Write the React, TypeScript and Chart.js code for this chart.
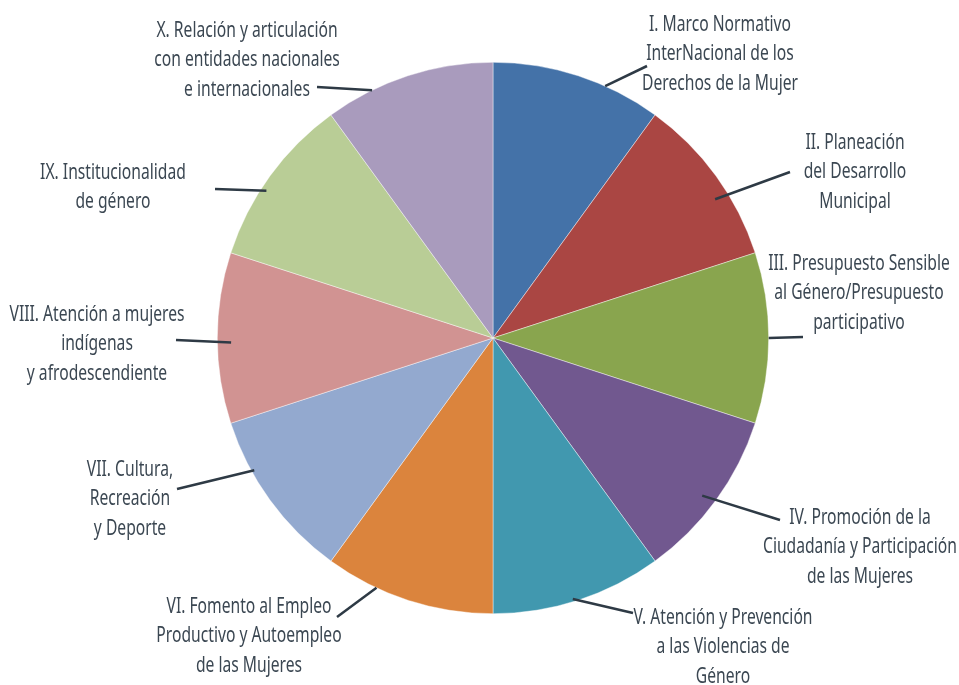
import React, { useEffect, useRef } from "react";
import { Chart, registerables } from "chart.js";

Chart.register(...registerables);

const categories: string[][] = [
  ["I. Marco Normativo", "InterNacional de los", "Derechos de la Mujer"],
  ["II. Planeación", "del Desarrollo", "Municipal"],
  ["III. Presupuesto Sensible", "al Género/Presupuesto", "participativo"],
  ["IV. Promoción de la", "Ciudadanía y Participación", "de las Mujeres"],
  ["V. Atención y Prevención", "a las Violencias de", "Género"],
  ["VI. Fomento al Empleo", "Productivo y Autoempleo", "de las Mujeres"],
  ["VII. Cultura,", "Recreación", "y Deporte"],
  ["VIII. Atención a mujeres", "indígenas", "y afrodescendiente"],
  ["IX. Institucionalidad", "de género"],
  ["X. Relación y articulación", "con entidades nacionales", "e internacionales"],
];

const values: number[] = [10, 10, 10, 10, 10, 10, 10, 10, 10, 10];

const colors: string[] = [
  "#4472A8",
  "#AA4643",
  "#89A54E",
  "#71588F",
  "#4198AF",
  "#DB843D",
  "#93A9CF",
  "#D19392",
  "#B9CD96",
  "#A99BBD",
];

// Label layout (style only): block centre x, first line centre y
const labelPos = [
  { x: 720, y: 25 },
  { x: 855, y: 143 },
  { x: 859, y: 264 },
  { x: 860, y: 518 },
  { x: 723, y: 618 },
  { x: 249, y: 607 },
  { x: 130, y: 470 },
  { x: 97, y: 315 },
  { x: 113, y: 173 },
  { x: 247, y: 31 },
];
// Leader line outer end (near label)
const leaderEnd = [
  { x: 647, y: 66 },
  { x: 790, y: 172 },
  { x: 803, y: 337 },
  { x: 780, y: 520 },
  { x: 633, y: 613 },
  { x: 337, y: 617 },
  { x: 177, y: 489 },
  { x: 176, y: 340 },
  { x: 215, y: 189 },
  { x: 317, y: 87 },
];
// Leader start: shift from slice mid-angle (deg) and fraction of radius
const leaderShift = [6, 4, 0, 1, 1, 7, 7, -1, -3, -8];
const leaderRadius = [1.0, 0.95, 1.0, 0.95, 0.99, 1.0, 0.99, 0.95, 0.98, 1.0];

const LINE_H = 29.5;
const FONT = "21px 'Noto Sans', 'Open Sans', sans-serif";

const labelPlugin = {
  id: "pieLabels",
  afterDraw(chart: any) {
    const ctx = chart.ctx as CanvasRenderingContext2D;
    const meta = chart.getDatasetMeta(0);
    ctx.save();
    ctx.font = FONT;
    const ref = ctx.measureText("Ciudadanía y Participación").width;
    const sx = 194 / ref;
    meta.data.forEach((arc: any, i: number) => {
      const mid = (arc.startAngle + arc.endAngle) / 2 + (leaderShift[i] * Math.PI) / 180;
      const r = arc.outerRadius * leaderRadius[i];
      const x0 = arc.x + Math.cos(mid) * r;
      const y0 = arc.y + Math.sin(mid) * r;
      ctx.beginPath();
      ctx.moveTo(x0, y0);
      ctx.lineTo(leaderEnd[i].x, leaderEnd[i].y);
      ctx.strokeStyle = "#2e3a45";
      ctx.lineWidth = 2.5;
      ctx.stroke();
    });
    ctx.fillStyle = "#3b4752";
    ctx.textAlign = "center";
    ctx.textBaseline = "middle";
    categories.forEach((lines, i) => {
      const p = labelPos[i];
      lines.forEach((line, j) => {
        ctx.save();
        ctx.translate(p.x, p.y + j * LINE_H);
        ctx.scale(sx, 1);
        ctx.fillText(line, 0, 0);
        ctx.restore();
      });
    });
    ctx.restore();
  },
};

export default function App() {
  const ref = useRef<HTMLCanvasElement>(null);
  useEffect(() => {
    if (!ref.current) return;
    const chart = new Chart(ref.current, {
      type: "pie",
      data: {
        labels: categories.map((l) => l.join(" ")),
        datasets: [
          {
            data: values,
            backgroundColor: colors,
            borderWidth: 0.6,
            borderColor: "rgba(255,255,255,0.7)",
          },
        ],
      },
      options: {
        responsive: false,
        animation: false,
        layout: { padding: { top: 62, bottom: 71, left: 217, right: 190 } },
        plugins: {
          legend: { display: false },
          tooltip: { enabled: false },
        },
      },
      plugins: [labelPlugin],
    });
    return () => chart.destroy();
  }, []);
  return (
    <div style={{ position: "absolute", left: 0, top: 0, width: 959, height: 685, background: "#fff" }}>
      <canvas ref={ref} width={959} height={685} />
    </div>
  );
}
